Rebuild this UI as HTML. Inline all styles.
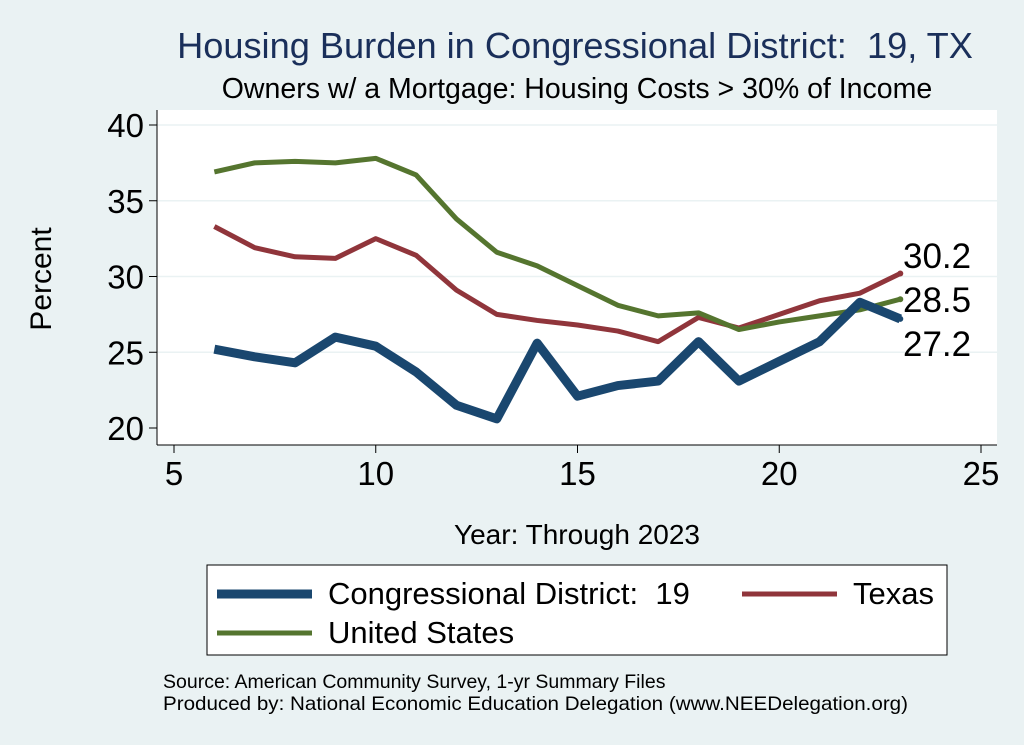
<!DOCTYPE html>
<html><head><meta charset="utf-8"><style>
body{margin:0;background:#eaf2f3;}
svg{display:block;font-family:"Liberation Sans",sans-serif;}
text{white-space:pre;}
</style></head><body>
<svg id="chart" width="1024" height="745">
<rect x="0" y="0" width="1024" height="745" fill="#eaf2f3"/>
<text x="575" y="58" font-size="36.2" fill="#1a2f5a" text-anchor="middle">Housing Burden in Congressional District:  19, TX</text>
<text x="577" y="98" font-size="28.5" fill="#000" text-anchor="middle">Owners w/ a Mortgage: Housing Costs &gt; 30% of Income</text>
<rect x="157" y="110" width="840" height="335" fill="#fff"/>
<g id="grid"></g>
<g id="axes"></g>
<g id="series"></g>
<text x="51" y="279" font-size="30" text-anchor="middle" transform="rotate(-90 51 279)">Percent</text>
<text x="577" y="544" font-size="28" text-anchor="middle">Year: Through 2023</text>
<rect x="207" y="565" width="740" height="90" fill="#fff" stroke="#000" stroke-width="1"/>
<g><line x1="217" y1="594" x2="312" y2="594" stroke="#1a476f" stroke-width="9"/><text x="328" y="604" font-size="31">Congressional District:  19</text></g>
<g><line x1="742" y1="594" x2="837" y2="594" stroke="#90353b" stroke-width="5"/><text x="853" y="604" font-size="31">Texas</text></g>
<g><line x1="217" y1="633" x2="312" y2="633" stroke="#55752f" stroke-width="5"/><text x="328" y="643" font-size="31">United States</text></g>
<text x="163" y="688" font-size="19.5">Source: American Community Survey, 1-yr Summary Files</text>
<text x="163" y="710" font-size="19.5" textLength="745" lengthAdjust="spacingAndGlyphs">Produced by: National Economic Education Delegation (www.NEEDelegation.org)</text>
</svg>
<script>
const years=[6,7,8,9,10,11,12,13,14,15,16,17,18,19,20,21,22,23];
const district=[25.2,24.7,24.3,26.0,25.4,23.7,21.5,20.6,25.6,22.1,22.8,23.1,25.7,23.1,24.4,25.7,28.3,27.2];
const texas=[33.3,31.9,31.3,31.2,32.5,31.4,29.1,27.5,27.1,26.8,26.4,25.7,27.3,26.6,27.5,28.4,28.9,30.2];
const us=[36.9,37.5,37.6,37.5,37.8,36.7,33.8,31.6,30.7,29.4,28.1,27.4,27.6,26.5,27.0,27.4,27.8,28.5];
const xTicks=[5,10,15,20,25];
const yTicks=[20,25,30,35,40];
const NS="http://www.w3.org/2000/svg";
const X=v=>174+(v-5)*40.35, Y=v=>428-(v-20)*15.15;
function mk(t,a,p){const e=document.createElementNS(NS,t);for(const k in a)e.setAttribute(k,a[k]);p.appendChild(e);return e;}
const grid=document.getElementById('grid'),axes=document.getElementById('axes'),ser=document.getElementById('series');
yTicks.forEach(t=>{
 if(t>20){const g=mk('line',{x1:157,x2:997,y1:Y(t),y2:Y(t),stroke:'#eaf2f3','stroke-width':1.5},grid);
 
 }
 const tk=mk('line',{x1:149,x2:157,y1:Y(t),y2:Y(t),stroke:'#000'},axes);
 
 
 const l=mk('text',{x:144,y:Y(t)+12,'font-size':33,'text-anchor':'end'},axes);l.textContent=t;
 
 
});
xTicks.forEach(t=>{
 const tk=mk('line',{x1:X(t),x2:X(t),y1:445,y2:453,stroke:'#000'},axes);
 
 
 const l=mk('text',{x:X(t),y:485,'font-size':33,'text-anchor':'middle'},axes);l.textContent=t;
 
 
});
const ya=mk('line',{x1:157,x2:157,y1:110,y2:445,stroke:'#000'},axes);


const xa=mk('line',{x1:157,x2:997,y1:445,y2:445,stroke:'#000'},axes);


function line(vals,color,w,name,ly){
 const p=mk('polyline',{points:years.map((y,i)=>X(y)+','+Y(vals[i])).join(' '),fill:'none',stroke:color,'stroke-width':w,'stroke-linejoin':'round'},ser);
 
 
 const n=vals.length-1;
 const d=mk('circle',{cx:X(years[n]),cy:Y(vals[n]),r:3,fill:color},ser);
 
 
 const t=mk('text',{x:903,y:ly,'font-size':35},ser);t.textContent=vals[n].toFixed(1);
 
 
}
line(texas,'#90353b',5,'texas-line',268);
line(us,'#55752f',5,'us-line',312);
line(district,'#1a476f',9,'district-line',356);
</script>
</body></html>
